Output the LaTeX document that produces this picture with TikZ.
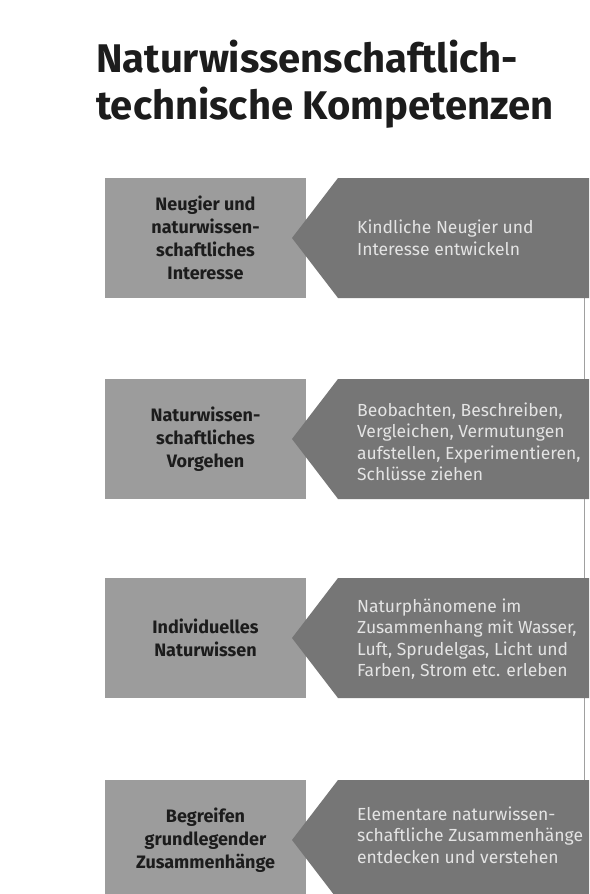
\documentclass[tikz,border=0pt]{standalone}
\usepackage{fontspec}
\setmainfont{Fira Sans}
\definecolor{boxgray}{RGB}{156,156,156}
\definecolor{arrowgray}{RGB}{118,118,118}
\definecolor{lighttext}{RGB}{228,228,228}
\definecolor{darktext}{RGB}{28,28,28}
\definecolor{edgegray}{RGB}{160,160,160}
\begin{document}
\begin{tikzpicture}[x=1pt,y=-1pt,
  leftbox/.style={fill=boxgray,draw=none,minimum width=201pt,minimum height=120pt,inner sep=0pt,
    text=darktext,align=center,font=\fontsize{18}{23}\selectfont\bfseries},
  arrowshape/.style={fill=arrowgray,draw=none},
  arrowtext/.style={anchor=west,align=left,text=lighttext,inner sep=0pt,
    font=\fontsize{17.5}{21.5}\selectfont},
  titletext/.style={anchor=north west,align=left,inner sep=0pt,text=darktext,
    font=\fontsize{40}{47}\selectfont\bfseries}]
\useasboundingbox (0,0) rectangle (589,894);
\clip (0,0) rectangle (589,894);
\fill[white] (0,0) rectangle (589,894);

\node[titletext] (title) at (96,40) {Naturwissenschaftlich-\\technische Kompetenzen};

% page edge line (scan)
\draw[edgegray,line width=1pt] (584,298) -- (584,780);

% row 1
\node[leftbox] (l1) at (205.5,238) {Neugier und\\naturwissen-\\schaftliches\\Interesse};
\path[arrowshape] (292,238) -- (338,178) -- (600,178) -- (600,298) -- (338,298) -- cycle;
\node[arrowtext] (r1) at (357,238) {Kindliche Neugier und\\Interesse entwickeln};

% row 2
\node[leftbox] (l2) at (205.5,439) {Naturwissen-\\schaftliches\\Vorgehen};
\path[arrowshape] (292,439) -- (338,379) -- (600,379) -- (600,499) -- (338,499) -- cycle;
\node[arrowtext] (r2) at (357,442) {Beobachten, Beschreiben,\\Vergleichen, Vermutungen\\aufstellen, Experimentieren,\\Schlüsse ziehen};

% row 3
\node[leftbox] (l3) at (205.5,638) {Individuelles\\Naturwissen};
\path[arrowshape] (292,638) -- (338,578) -- (600,578) -- (600,698) -- (338,698) -- cycle;
\node[arrowtext] (r3) at (357,639) {Naturphänomene im\\Zusammenhang mit Wasser,\\Luft, Sprudelgas, Licht und\\Farben, Strom etc. erleben};

% row 4
\node[leftbox] (l4) at (205.5,840) {Begreifen\\grundlegender\\Zusammenhänge};
\path[arrowshape] (292,840) -- (338,780) -- (600,780) -- (600,900) -- (338,900) -- cycle;
\node[arrowtext] (r4) at (357,835) {Elementare naturwissen-\\schaftliche Zusammenhänge\\entdecken und verstehen};
\end{tikzpicture}
\end{document}
